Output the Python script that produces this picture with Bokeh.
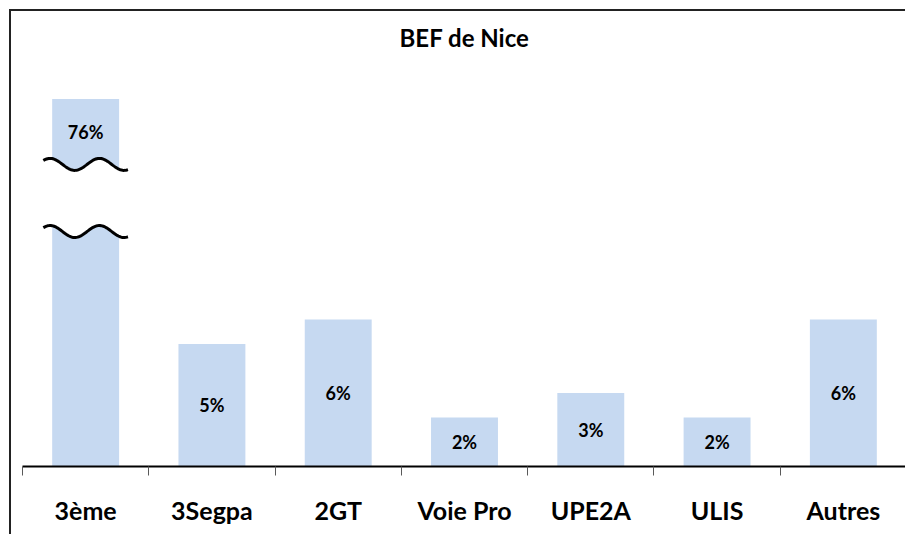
import numpy as np
from bokeh.plotting import figure
from bokeh.models import Range1d, FixedTicker, ColumnDataSource
from bokeh.core.properties import value
from bokeh.embed import file_html
from bokeh.resources import INLINE

# ---- data ----
categories = ["3ème", "3Segpa", "2GT", "Voie Pro", "UPE2A", "ULIS", "Autres"]
values = [76, 5, 6, 2, 3, 2, 6]
labels = ["76%", "5%", "6%", "2%", "3%", "2%", "6%"]
title_text = "BEF de Nice"

# ---- broken-axis display settings (style, not data) ----
cap_top = 15.0        # drawn top for bars cut by the break
break_low = 9.59      # lower wavy line
break_high = 12.33    # upper wavy line
BAR_COLOR = "#C6D9F1"
FONT = "Lato"

xs = list(range(1, len(categories) + 1))
tops = [v if v <= cap_top else cap_top for v in values]
label_y = []
for v, t in zip(values, tops):
    if v > cap_top:
        label_y.append((break_high + t) / 2)
    else:
        label_y.append(t / 2)

src = ColumnDataSource(dict(x=xs, top=tops, lab=labels, ly=label_y))

p = figure(width=896, height=525, output_backend="svg", toolbar_location=None,
           x_range=Range1d(0.5, 7.5), y_range=Range1d(0, 16.57),
           min_border_left=11, min_border_right=1, min_border_top=49,
           min_border_bottom=70)
p.styles = {"margin-left": "9px", "margin-top": "9px",
            "border-left": "2px solid #222222", "border-top": "2px solid #222222"}
p.outline_line_color = None
p.background_fill_color = "white"
p.border_fill_color = "white"
p.grid.visible = False
p.yaxis.visible = False

p.title.text = title_text
p.title.align = "center"
p.title.text_font = FONT
p.title.text_font_style = "bold"
p.title.text_font_size = "24px"
p.title.text_color = "black"
p.title.standoff = 18

p.vbar(x="x", top="top", bottom=0, width=0.53, source=src,
       fill_color=BAR_COLOR, line_color=None)

# broken bar marks
amp = 0.245
t = np.linspace(-0.335, 0.335, 80)
for xi, v in zip(xs, values):
    if v > cap_top:
        up = break_high + amp * np.cos(2 * np.pi * (t - 0.109) / 0.39)
        lo = break_low + amp * np.cos(2 * np.pi * (t - 0.109) / 0.39)
        px = list(xi + t) + list((xi + t)[::-1])
        py = list(up) + list(lo[::-1])
        p.patch(px, py, fill_color="white", line_color=None)
        p.line(xi + t, up, line_color="black", line_width=3)
        p.line(xi + t, lo, line_color="black", line_width=3)

p.text(x="x", y="ly", text="lab", source=src, text_align="center",
       text_baseline="middle", text_font=value(FONT), text_font_style="bold",
       text_font_size="18px", text_color="black")

ax = p.xaxis[0]
ax.ticker = FixedTicker(ticks=xs, minor_ticks=[x - 0.5 for x in xs] + [xs[-1] + 0.5])
ax.major_label_overrides = {x: c for x, c in zip(xs, categories)}
ax.major_tick_out = 0
ax.major_tick_in = 0
ax.minor_tick_out = 9
ax.minor_tick_in = 0
ax.minor_tick_line_color = "#595959"
ax.minor_tick_line_width = 1
ax.axis_line_color = "black"
ax.axis_line_width = 2
ax.major_label_standoff = 19
ax.major_label_text_font = FONT
ax.major_label_text_font_style = "bold"
ax.major_label_text_font_size = "25px"
ax.major_label_text_color = "black"

open("out.html", "w").write(file_html(p, INLINE))
